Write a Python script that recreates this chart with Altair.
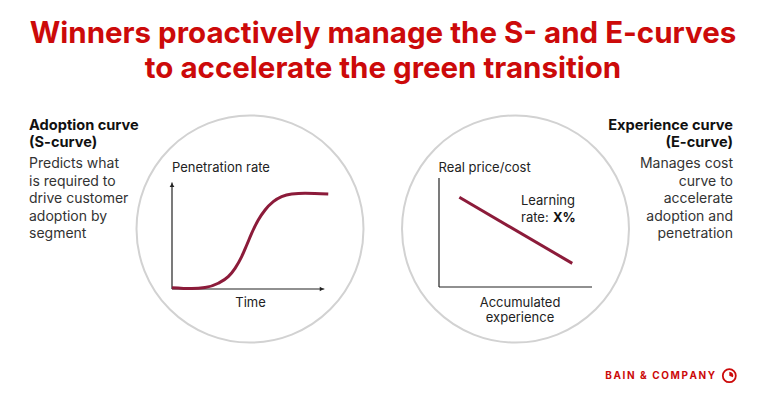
import altair as alt
import pandas as pd

# ---- data ----
s_time = [0, 12.5, 20.9, 29.3, 35.6, 39.9, 44.1, 47.3, 50.4, 54.6, 58.9, 64.1, 69.4, 75.8, 84.2, 98.9]
s_pen = [1.2, 0.4, 1.4, 5.4, 11.6, 19.4, 30.4, 41.3, 52.3, 64.8, 74.2, 82.0, 86.7, 89.2, 89.9, 89.2]
e_exp = [13.3, 87.1]
e_cost = [82.3, 21.7]

title_lines = ["Winners proactively manage the S- and E-curves",
               "to accelerate the green transition"]
left_head = ["Adoption curve", "(S-curve)"]
left_body = ["Predicts what", "is required to", "drive customer", "adoption by", "segment"]
right_head = ["Experience curve", "(E-curve)"]
right_body = ["Manages cost", "curve to", "accelerate", "adoption and", "penetration"]
brand = "BAIN & COMPANY"

FONT = "Inter"
RED = "#cc0a0a"
CURVE = "#8c1b3a"
W, H = 750, 384


def px_x():
    return alt.Scale(domain=[8, 758], range=[0, W])


def px_y():
    return alt.Scale(domain=[8, 392], range=[0, H])


def text_layer(xs, ys, texts, **mk):
    df = pd.DataFrame({"x": xs, "y": ys, "t": texts})
    return alt.Chart(df).mark_text(baseline="alphabetic", font=FONT, **mk).encode(
        x=alt.X("x:Q", scale=px_x(), axis=None),
        y=alt.Y("y:Q", scale=px_y(), axis=None),
        text="t:N",
    )


layers = []

# circles
circ = pd.DataFrame({"x": [250, 515.5], "y": [229, 229]})
layers.append(alt.Chart(circ).mark_point(shape="circle", filled=False, size=227 * 227,
                                         stroke="#d2d2d2", strokeWidth=2, opacity=1).encode(
    x=alt.X("x:Q", scale=px_x(), axis=None), y=alt.Y("y:Q", scale=px_y(), axis=None)))

# titles
layers.append(text_layer([383, 383], [43, 78], title_lines, align="center", fontSize=29.5,
                         fontWeight="bold", color=RED))
head_y = [129.5, 147]
body_y = [168, 185.5, 203, 220.5, 238]
layers.append(text_layer([29] * 2, head_y, left_head, align="left", fontSize=14.6,
                         fontWeight="bold", color="#111111"))
layers.append(text_layer([29] * 5, body_y, left_body, align="left", fontSize=14,
                         color="#333333"))
layers.append(text_layer([733] * 2, head_y, right_head, align="right", fontSize=14.6,
                         fontWeight="bold", color="#111111"))
layers.append(text_layer([733] * 5, body_y, right_body, align="right", fontSize=14,
                         color="#333333"))

# chart labels
layers.append(text_layer([172, 438.5], [172, 172], ["Penetration rate", "Real price/cost"],
                         align="left", fontSize=13, color="#222222"))
layers.append(text_layer([250.5, 520, 520], [307, 307, 322], ["Time", "Accumulated", "experience"],
                         align="center", fontSize=13, color="#222222"))
layers.append(text_layer([521], [205], ["Learning"], align="left", fontSize=13, color="#222222"))
layers.append(text_layer([521], [221.5], ["rate: "], align="left", fontSize=13, color="#222222"))
layers.append(text_layer([553], [221.5], ["X%"], align="left", fontSize=13, fontWeight="bold",
                         color="#111111"))

# S-curve panel
sx = alt.Scale(domain=[0, 100], range=[164, 322])
sy = alt.Scale(domain=[0, 100], range=[281, 174.5])
s_axes = pd.DataFrame({"x": [0, 0], "y": [0, 0], "x2": [0, 96.4], "y2": [100, 0]})
layers.append(alt.Chart(s_axes).mark_rule(color="#222222", strokeWidth=1.2).encode(
    x=alt.X("x:Q", scale=sx, axis=None), y=alt.Y("y:Q", scale=sy, axis=None),
    x2="x2:Q", y2="y2:Q"))
arrows = pd.DataFrame({"x": [0, 94.8], "y": [97.6, 0], "shape": ["triangle-up", "triangle-right"]})
layers.append(alt.Chart(arrows).mark_point(filled=True, size=22, color="#222222", opacity=1).encode(
    x=alt.X("x:Q", scale=sx, axis=None), y=alt.Y("y:Q", scale=sy, axis=None),
    shape=alt.Shape("shape:N", scale=None, legend=None)))
s_df = pd.DataFrame({"t": s_time, "p": s_pen})
layers.append(alt.Chart(s_df).mark_line(interpolate="monotone", color=CURVE, strokeWidth=3).encode(
    x=alt.X("t:Q", scale=sx, axis=None), y=alt.Y("p:Q", scale=sy, axis=None)))

# E-curve panel
ex = alt.Scale(domain=[0, 100], range=[431, 584])
ey = alt.Scale(domain=[0, 100], range=[279, 170])
e_axes = pd.DataFrame({"x": [0, 0], "y": [0, 0], "x2": [0, 100], "y2": [100, 0]})
layers.append(alt.Chart(e_axes).mark_rule(color="#222222", strokeWidth=1.2).encode(
    x=alt.X("x:Q", scale=ex, axis=None), y=alt.Y("y:Q", scale=ey, axis=None),
    x2="x2:Q", y2="y2:Q"))
e_df = pd.DataFrame({"e": e_exp, "c": e_cost})
layers.append(alt.Chart(e_df).mark_line(color=CURVE, strokeWidth=3).encode(
    x=alt.X("e:Q", scale=ex, axis=None), y=alt.Y("c:Q", scale=ey, axis=None)))

# footer logo
spaced = "\u2009".join(brand)
layers.append(text_layer([715], [379], [spaced], align="right", fontSize=10,
                         fontWeight="bold", color=RED))
logo = pd.DataFrame({"x": [729.3], "y": [375.7]})
layers.append(alt.Chart(logo).mark_point(shape="circle", filled=False, size=13 * 13, stroke=RED,
                                         strokeWidth=1.8, opacity=1).encode(
    x=alt.X("x:Q", scale=px_x(), axis=None), y=alt.Y("y:Q", scale=px_y(), axis=None)))
layers.append(alt.Chart(logo).mark_arc(theta=0, theta2=2.0, outerRadius=4, color=RED).encode(
    x=alt.X("x:Q", scale=px_x(), axis=None), y=alt.Y("y:Q", scale=px_y(), axis=None)))

chart = alt.layer(*layers).resolve_scale(x="independent", y="independent").properties(
    width=W, height=H, padding=0, autosize="none", background="white"
).configure_view(strokeWidth=0)

chart.save("out.html", embed_options={"renderer": "svg", "actions": False})
